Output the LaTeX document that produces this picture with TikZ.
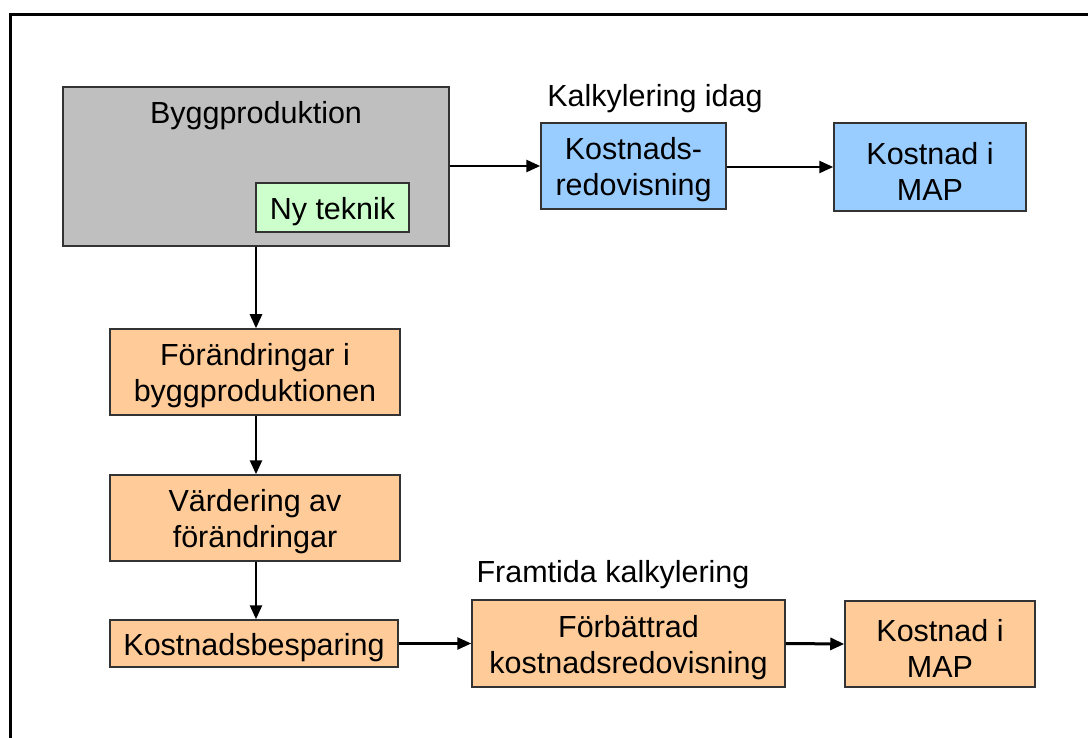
\documentclass[tikz,border=0pt]{standalone}
\usepackage{fontspec}
\setmainfont{Liberation Sans}
\usetikzlibrary{arrows.meta}
\tikzset{
  box/.style={draw=black!80, line width=1.5pt, inner sep=0pt},
  gray box/.style={box, fill=black!25},
  green box/.style={box, fill=green!20},
  blue box/.style={box, fill={rgb,255:red,153;green,204;blue,255}},
  orange box/.style={box, fill={rgb,255:red,255;green,204;blue,153}},
  lbl/.style={font=\fontsize{30.5}{36}\selectfont, inner sep=0pt, align=center},
  txt/.style={label={[lbl,yshift=-4pt]center:#1}},
  arr/.style={draw=black, line width=2.5pt, -{Triangle[length=14pt,width=12pt]}},
}
\begin{document}
\begin{tikzpicture}[x=1pt,y=-1pt]
\useasboundingbox (0,0) rectangle (1088,738);
\begin{scope}
\clip (0,0) rectangle (1088,738);
\draw[line width=3pt] (10,15) rectangle (1100,760);
\end{scope}
% boxes
\node[gray box, minimum width=386pt, minimum height=159pt] (byg) at (256,166.5) {};
\node[lbl, anchor=center] (bygt) at (256,116) {Byggproduktion};
\node[green box, minimum width=153pt, minimum height=49pt, txt={Ny teknik}] (ny) at (332.5,207.5) {};
\node[blue box, minimum width=185pt, minimum height=86pt, txt={Kostnads-\\redovisning}] (kr) at (633.5,166) {};
\node[blue box, minimum width=192pt, minimum height=88pt, txt={Kostnad i\\MAP}] (km1) at (930,167) {};
\node[lbl] (ki) at (655,99) {Kalkylering idag};
\node[orange box, minimum width=290pt, minimum height=86pt, txt={Förändringar i\\byggproduktionen}] (fo) at (255,372) {};
\node[orange box, minimum width=290pt, minimum height=86pt, txt={Värdering av\\förändringar}] (va) at (255,518) {};
\node[orange box, minimum width=288pt, minimum height=47pt, txt={Kostnadsbesparing}] (kb) at (254,643.5) {};
\node[lbl] (fk) at (613,575) {Framtida kalkylering};
\node[orange box, minimum width=313pt, minimum height=87pt, txt={Förbättrad\\kostnadsredovisning}] (fb) at (628.5,643.5) {};
\node[orange box, minimum width=190pt, minimum height=86pt, txt={Kostnad i\\MAP}] (km2) at (940,644) {};
% arrows
\draw[arr] (byg.east |- 0,166) -- (kr.west |- 0,166);
\draw[arr] (kr.east |- 0,167) -- (km1.west |- 0,167);
\draw[arr] (byg.south -| 256,0) -- (fo.north -| 256,0);
\draw[arr] (fo.south -| 256,0) -- (va.north -| 256,0);
\draw[arr] (va.south -| 256,0) -- (kb.north -| 256,0);
\draw[arr] (kb.east) -- (fb.west);
\draw[arr, line width=3pt] (fb.east) -- (km2.west);
\end{tikzpicture}
\end{document}
